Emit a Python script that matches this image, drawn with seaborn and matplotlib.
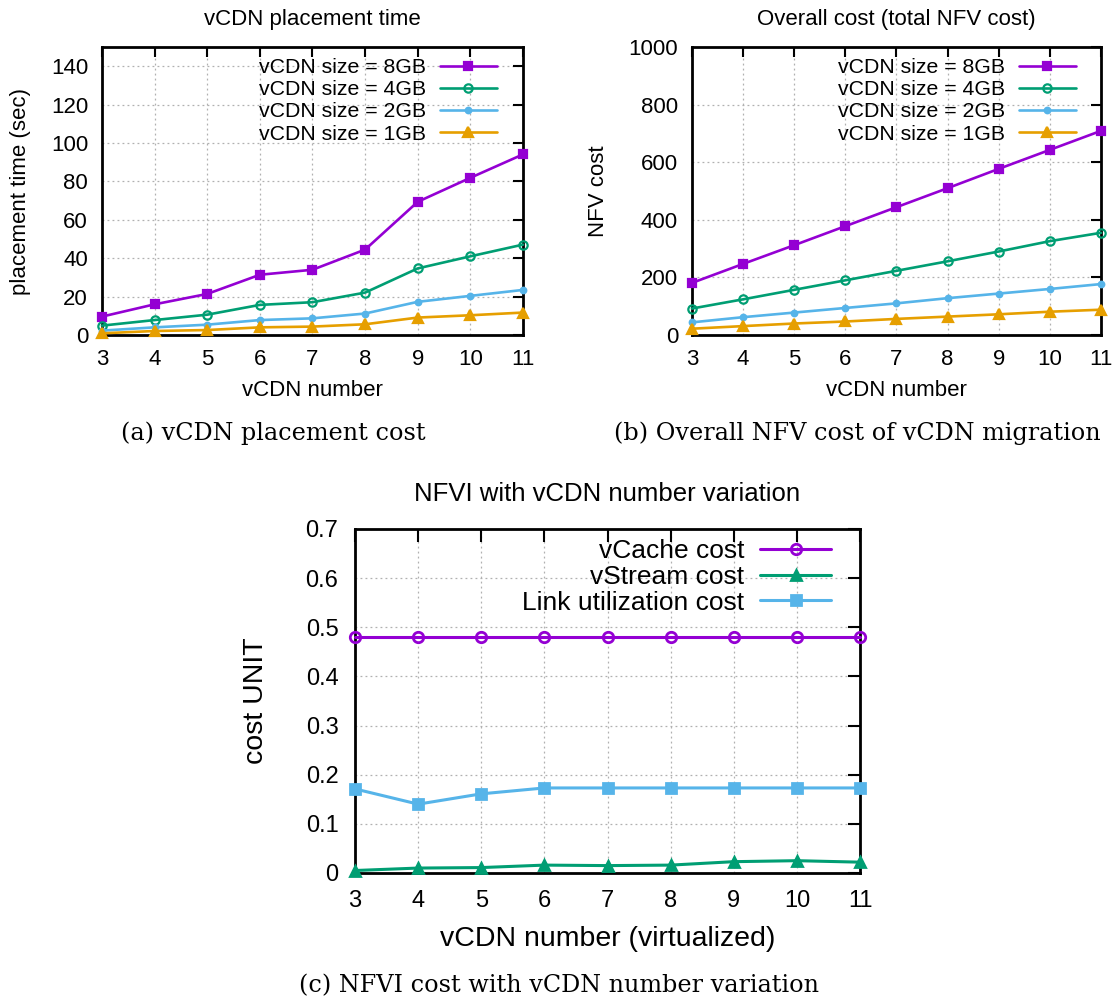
import numpy as np
import pandas as pd
import matplotlib
matplotlib.use("Agg")
import matplotlib.pyplot as plt
import seaborn as sns

# ---------------- data ----------------
vcdn_number = [3, 4, 5, 6, 7, 8, 9, 10, 11]

# (a) placement time (sec)
place_8gb = [9.6, 16.0, 21.4, 31.4, 34.0, 44.5, 69.4, 81.9, 94.1]
place_4gb = [4.9, 7.8, 10.6, 15.7, 17.1, 22.1, 34.7, 41.0, 47.1]
place_2gb = [2.3, 4.0, 5.4, 7.8, 8.7, 11.2, 17.3, 20.4, 23.5]
place_1gb = [0.9, 2.1, 2.6, 4.0, 4.4, 5.6, 9.1, 10.3, 11.7]

# (b) NFV cost
nfv_8gb = [181, 247, 312, 378, 444, 510, 577, 643, 709]
nfv_4gb = [92, 124, 157, 190, 223, 256, 290, 326, 355]
nfv_2gb = [44, 62, 78, 94, 110, 128, 144, 160, 177]
nfv_1gb = [22, 31, 40, 47, 56, 64, 72, 81, 88]

# (c) NFVI cost
vcache_cost = [0.48, 0.48, 0.48, 0.48, 0.48, 0.48, 0.48, 0.48, 0.48]
vstream_cost = [0.005, 0.010, 0.011, 0.016, 0.015, 0.016, 0.023, 0.025, 0.022]
link_cost = [0.171, 0.140, 0.161, 0.173, 0.173, 0.173, 0.173, 0.173, 0.173]

size_labels = ["vCDN size = 8GB", "vCDN size = 4GB", "vCDN size = 2GB", "vCDN size = 1GB"]
nfvi_labels = ["vCache cost", "vStream cost", "Link utilization cost"]

PURPLE = "#9400D3"
GREEN = "#009E73"
BLUE = "#56B4E9"
ORANGE = "#E69F00"

sns.set_theme(style="white")
plt.rcParams["font.family"] = ["Liberation Sans", "DejaVu Sans"]
plt.rcParams["text.color"] = "black"
plt.rcParams["axes.labelcolor"] = "black"
plt.rcParams["axes.titlecolor"] = "black"

fig = plt.figure(figsize=(11.13, 10.01), dpi=100)

ax_a = fig.add_axes([0.0916, 0.6653, 0.3783, 0.2877])
ax_b = fig.add_axes([0.6217, 0.6653, 0.3675, 0.2877])
ax_c = fig.add_axes([0.3190, 0.1279, 0.4537, 0.3437])

size_styles = [
    dict(color=PURPLE, marker="s", mfc=PURPLE, ms=5.5),
    dict(color=GREEN, marker="o", mfc="none", ms=6),
    dict(color=BLUE, marker="o", mfc=BLUE, ms=4),
    dict(color=ORANGE, marker="^", mfc=ORANGE, ms=6.5),
]


def style_axes(ax, ylim, yticks, tick_fs, major_len=7, pad=9):
    ax.set_xlim(3, 11)
    ax.set_ylim(*ylim)
    ax.set_xticks(vcdn_number)
    ax.set_yticks(yticks)
    ax.grid(True, color="#b0b0b0", linestyle=(0, (1.5, 2.5)), linewidth=0.9)
    ax.tick_params(direction="in", length=major_len, width=1.5, top=True, right=True,
                   labelsize=tick_fs, colors="black", pad=pad)
    for sp in ax.spines.values():
        sp.set_visible(True)
        sp.set_color("black")
        sp.set_linewidth(2.0)
    ax.set_axisbelow(True)


def draw_sizes(ax, series):
    for vals, lab, st in zip(series, size_labels, size_styles):
        sns.lineplot(x=vcdn_number, y=vals, ax=ax, label=lab, color=st["color"],
                     marker=st["marker"], markersize=st["ms"], markerfacecolor=st["mfc"],
                     markeredgecolor=st["color"], markeredgewidth=1.6, linewidth=1.9,
                     clip_on=False, zorder=3)


leg_kw_ab = dict(loc="upper right", frameon=False, markerfirst=False, fontsize=15.3,
                 handlelength=2.7, labelspacing=0.15, borderaxespad=0.0, borderpad=0.0,
                 handletextpad=0.65)

# ---------- (a) ----------
draw_sizes(ax_a, [place_8gb, place_4gb, place_2gb, place_1gb])
style_axes(ax_a, (0, 150), np.arange(0, 141, 20), 16, pad=10)
ax_a.set_xlabel("vCDN number", fontsize=16, labelpad=7)
ax_a.set_ylabel("placement time (sec)", fontsize=16, labelpad=14)
ax_a.set_title("vCDN placement time", fontsize=16, pad=16)
ax_a.legend(bbox_to_anchor=(0.938, 0.962), **leg_kw_ab)

# ---------- (b) ----------
draw_sizes(ax_b, [nfv_8gb, nfv_4gb, nfv_2gb, nfv_1gb])
style_axes(ax_b, (0, 1000), np.arange(0, 1001, 200), 16, pad=10)
ax_b.set_xlabel("vCDN number", fontsize=16, labelpad=7)
ax_b.set_ylabel("NFV cost", fontsize=16, labelpad=14)
ax_b.set_title("Overall cost (total NFV cost)", fontsize=16, pad=16)
ax_b.legend(bbox_to_anchor=(0.939, 0.962), **leg_kw_ab)

# ---------- (c) ----------
nfvi_series = [vcache_cost, vstream_cost, link_cost]
nfvi_styles = [
    dict(color=PURPLE, marker="o", mfc="none", ms=7.5),
    dict(color=GREEN, marker="^", mfc=GREEN, ms=7.5),
    dict(color=BLUE, marker="s", mfc=BLUE, ms=6.5),
]
for vals, lab, st in zip(nfvi_series, nfvi_labels, nfvi_styles):
    sns.lineplot(x=vcdn_number, y=vals, ax=ax_c, label=lab, color=st["color"],
                 marker=st["marker"], markersize=st["ms"], markerfacecolor=st["mfc"],
                 markeredgecolor=st["color"], markeredgewidth=2.0, linewidth=2.2,
                 clip_on=False, zorder=3)
style_axes(ax_c, (0, 0.7), np.round(np.arange(0, 0.71, 0.1), 1), 17, major_len=9, pad=12)
ax_c.set_yticklabels(["0"] + [f"{v:.1f}" for v in np.arange(0.1, 0.71, 0.1)])
ax_c.set_xlabel("vCDN number (virtualized)", fontsize=20.5, labelpad=10)
ax_c.set_ylabel("cost UNIT", fontsize=20.5, labelpad=26)
ax_c.set_title("NFVI with vCDN number variation", fontsize=18.5, pad=20)
ax_c.legend(loc="upper right", bbox_to_anchor=(0.943, 0.971), frameon=False, markerfirst=False,
            fontsize=19, handlelength=2.7, labelspacing=0.07, borderaxespad=0.0, borderpad=0.0,
            handletextpad=0.6)

# ---------- captions ----------
cap_font = ["DejaVu Serif", "Liberation Serif"]
fig.text(273 / 1113, 1 - 433 / 1001, "(a) vCDN placement cost", ha="center", va="center",
         fontsize=17.2, family=cap_font)
fig.text(857 / 1113, 1 - 433 / 1001, "(b) Overall NFV cost of vCDN migration", ha="center",
         va="center", fontsize=17.2, family=cap_font)
fig.text(559 / 1113, 1 - 986 / 1001, "(c) NFVI cost with vCDN number variation", ha="center",
         va="center", fontsize=17.2, family=cap_font)

fig.savefig("out.png", dpi=100, facecolor="white")
